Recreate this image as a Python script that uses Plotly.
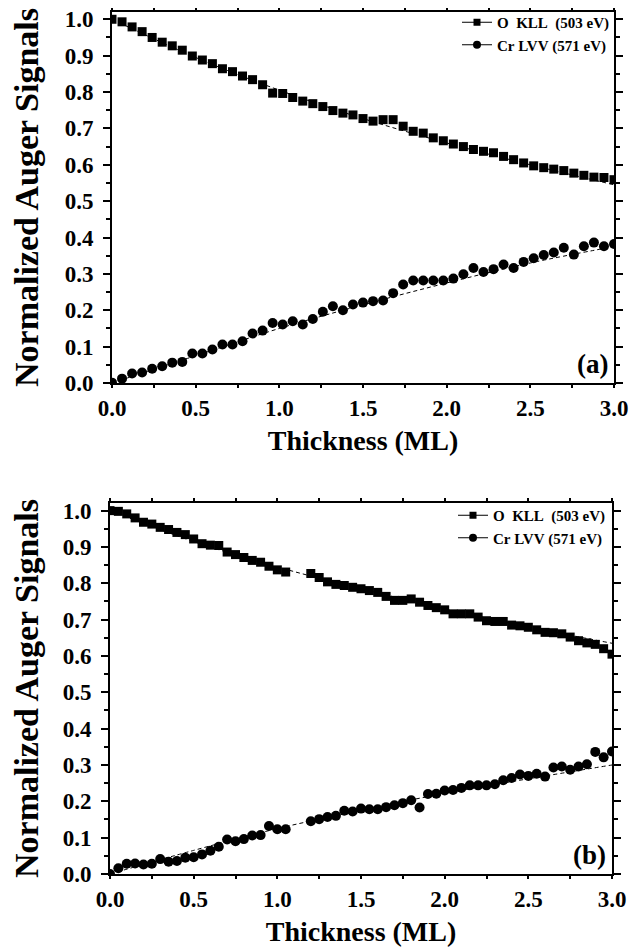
import plotly.graph_objects as go

# ---------------- Panel (a) data ----------------
thick_a = [0.00, 0.06, 0.12, 0.18, 0.24, 0.30, 0.36, 0.42, 0.48, 0.54,
           0.60, 0.66, 0.72, 0.78, 0.84, 0.90, 0.96, 1.02, 1.08, 1.14,
           1.20, 1.26, 1.32, 1.38, 1.44, 1.50, 1.56, 1.62, 1.68, 1.74,
           1.80, 1.86, 1.92, 1.98, 2.04, 2.10, 2.16, 2.22, 2.28, 2.34,
           2.40, 2.46, 2.52, 2.58, 2.64, 2.70, 2.76, 2.82, 2.88, 2.94, 3.00]
o_kll_a = [1.000, 0.993, 0.979, 0.966, 0.950, 0.937, 0.927, 0.915, 0.899, 0.888,
           0.878, 0.864, 0.856, 0.844, 0.834, 0.820, 0.797, 0.796, 0.785, 0.775,
           0.768, 0.760, 0.749, 0.742, 0.737, 0.727, 0.720, 0.724, 0.724, 0.706,
           0.692, 0.687, 0.674, 0.666, 0.657, 0.650, 0.642, 0.637, 0.633, 0.623,
           0.614, 0.605, 0.597, 0.592, 0.588, 0.584, 0.577, 0.571, 0.566, 0.565, 0.559]
cr_lvv_a = [0.001, 0.012, 0.026, 0.029, 0.039, 0.046, 0.056, 0.058, 0.081, 0.081,
            0.092, 0.106, 0.106, 0.115, 0.136, 0.144, 0.165, 0.161, 0.170, 0.161,
            0.176, 0.196, 0.211, 0.200, 0.216, 0.221, 0.225, 0.227, 0.247, 0.271,
            0.282, 0.282, 0.282, 0.282, 0.287, 0.299, 0.316, 0.305, 0.313, 0.326,
            0.316, 0.333, 0.343, 0.352, 0.359, 0.372, 0.353, 0.376, 0.386, 0.376, 0.382]
fit_x = [0.0, 0.5, 1.0, 1.5, 2.0, 2.5, 3.0]
fit_o_a = [1.000, 0.895, 0.805, 0.727, 0.660, 0.600, 0.545]
fit_cr_a = [0.000, 0.075, 0.150, 0.215, 0.275, 0.330, 0.375]

# ---------------- Panel (b) data ----------------
thick_b = [0.00, 0.05, 0.10, 0.15, 0.20, 0.25, 0.30, 0.35, 0.40, 0.45,
           0.50, 0.55, 0.60, 0.65, 0.70, 0.75, 0.80, 0.85, 0.90, 0.95,
           1.00, 1.05, 1.20, 1.25, 1.30, 1.35, 1.40, 1.45, 1.50, 1.55,
           1.60, 1.65, 1.70, 1.75, 1.80, 1.85, 1.90, 1.95, 2.00, 2.05,
           2.10, 2.15, 2.20, 2.25, 2.30, 2.35, 2.40, 2.45, 2.50, 2.55,
           2.60, 2.65, 2.70, 2.75, 2.80, 2.85, 2.90, 2.95, 3.00]
o_kll_b = [1.000, 0.998, 0.991, 0.980, 0.968, 0.963, 0.954, 0.948, 0.940, 0.934,
           0.922, 0.909, 0.905, 0.904, 0.886, 0.879, 0.871, 0.863, 0.858, 0.847,
           0.837, 0.831, 0.827, 0.816, 0.804, 0.797, 0.794, 0.789, 0.785, 0.780,
           0.775, 0.764, 0.753, 0.753, 0.757, 0.748, 0.739, 0.733, 0.727, 0.716,
           0.716, 0.716, 0.707, 0.697, 0.695, 0.695, 0.685, 0.683, 0.679, 0.672,
           0.665, 0.664, 0.661, 0.652, 0.642, 0.636, 0.632, 0.620, 0.605]
cr_lvv_b = [0.000, 0.016, 0.028, 0.029, 0.026, 0.028, 0.041, 0.034, 0.036, 0.045,
            0.046, 0.054, 0.064, 0.075, 0.095, 0.090, 0.096, 0.106, 0.107, 0.132,
            0.123, 0.123, 0.145, 0.151, 0.157, 0.160, 0.174, 0.172, 0.180, 0.178,
            0.178, 0.184, 0.189, 0.195, 0.203, 0.183, 0.220, 0.221, 0.230, 0.231,
            0.237, 0.244, 0.244, 0.244, 0.247, 0.258, 0.264, 0.274, 0.270, 0.276,
            0.268, 0.293, 0.296, 0.287, 0.296, 0.302, 0.336, 0.321, 0.337]
fit_o_b = [1.000, 0.915, 0.845, 0.785, 0.730, 0.680, 0.635]
fit_cr_b = [0.000, 0.065, 0.125, 0.175, 0.222, 0.262, 0.300]

label_o = "O\u00a0\u00a0KLL\u00a0\u00a0(503\u00a0eV)"
label_cr = "Cr\u00a0LVV\u00a0(571\u00a0eV)"

# the page body has an 8px margin, so the figure is drawn 8px in from the window edge
OFF = 8
W, H = 639 - OFF, 949 - OFF
SERIF = "'Times New Roman', 'Liberation Serif', Times, serif"
BLACK = "#000000"

def fx(px):
    return (px - OFF) / W

def fy(py):
    return 1 - (py - OFF) / H

fig = go.Figure()

def add_panel(xs, o_vals, cr_vals, fo, fc, xa, ya, leg):
    for fyv in (fo, fc):
        fig.add_trace(go.Scatter(x=fit_x, y=fyv, mode="lines", line_shape="spline",
                                 line=dict(color=BLACK, width=1, dash="4px,3px"),
                                 showlegend=False, hoverinfo="skip", xaxis=xa, yaxis=ya))
    fig.add_trace(go.Scatter(x=xs, y=o_vals, mode="markers",
                             marker=dict(symbol="square", size=9, color=BLACK),
                             showlegend=False, xaxis=xa, yaxis=ya))
    fig.add_trace(go.Scatter(x=xs, y=cr_vals, mode="markers",
                             marker=dict(symbol="circle", size=10, color=BLACK),
                             showlegend=False, xaxis=xa, yaxis=ya))
    # legend entries
    fig.add_trace(go.Scatter(x=[None], y=[None], mode="lines+markers", name=label_o,
                             marker=dict(symbol="square", size=7, color=BLACK),
                             line=dict(color=BLACK, width=1),
                             legend=leg, xaxis=xa, yaxis=ya))
    fig.add_trace(go.Scatter(x=[None], y=[None], mode="lines+markers", name=label_cr,
                             marker=dict(symbol="circle", size=8, color=BLACK),
                             line=dict(color=BLACK, width=1),
                             legend=leg, xaxis=xa, yaxis=ya))

add_panel(thick_a, o_kll_a, cr_lvv_a, fit_o_a, fit_cr_a, "x", "y", "legend")
add_panel(thick_b, o_kll_b, cr_lvv_b, fit_o_b, fit_cr_b, "x2", "y2", "legend2")

tickfont = dict(family=SERIF, size=23, color=BLACK, weight="bold")
xtitle = dict(text="Thickness (ML)", font=dict(family=SERIF, size=28, color=BLACK, weight="bold"), standoff=11)
ytitle = dict(text="Normalized Auger Signals", font=dict(family=SERIF, size=34, color=BLACK, weight="bold"), standoff=16)

common_x = dict(range=[0, 3], tickmode="array", tickvals=[0, 0.5, 1.0, 1.5, 2.0, 2.5, 3.0],
                ticktext=["0.0", "0.5", "1.0", "1.5", "2.0", "2.5", "3.0"],
                ticks="outside", ticklen=3, tickwidth=2, tickcolor=BLACK,
                minor=dict(tickvals=[0.25, 0.75, 1.25, 1.75, 2.25, 2.75], ticks="outside", ticklen=3, tickwidth=2, tickcolor=BLACK),
                showline=True, linewidth=2, linecolor=BLACK, mirror="ticks", automargin=False,
                ticklabeloverflow="allow",
                showgrid=False, zeroline=False, tickfont=tickfont, title=xtitle)
ytv = [0.0, 0.1, 0.2, 0.3, 0.4, 0.5, 0.6, 0.7, 0.8, 0.9, 1.0]
common_y = dict(tickmode="array", tickvals=ytv, ticktext=[f"{v:.1f}" for v in ytv],
                ticks="outside", ticklen=7, tickwidth=2, tickcolor=BLACK, ticklabelstandoff=5,
                minor=dict(tickvals=[0.05, 0.15, 0.25, 0.35, 0.45, 0.55, 0.65, 0.75, 0.85, 0.95],
                           ticks="outside", ticklen=4, tickwidth=2, tickcolor=BLACK),
                showline=True, linewidth=2, linecolor=BLACK, mirror="ticks", automargin=False,
                ticklabeloverflow="allow",
                showgrid=False, zeroline=False, tickfont=tickfont, title=ytitle)

fig.update_layout(
    width=W, height=H,
    margin=dict(l=0, r=0, t=0, b=0, autoexpand=False),
    paper_bgcolor="white", plot_bgcolor="white",
    xaxis=dict(domain=[fx(112), fx(614)], anchor="y", **common_x),
    yaxis=dict(domain=[fy(383), fy(12)], anchor="x", range=[0, 1.02], **common_y),
    xaxis2=dict(domain=[fx(110), fx(612)], anchor="y2", **common_x),
    yaxis2=dict(domain=[fy(874), fy(503)], anchor="x2", range=[0, 1.021], **common_y),
    legend=dict(x=fx(615), y=fy(6), xanchor="right", yanchor="top",
                font=dict(family=SERIF, size=15, color=BLACK, weight="bold"),
                bgcolor="rgba(0,0,0,0)", itemwidth=30, tracegroupgap=0),
    legend2=dict(x=fx(611), y=fy(499), xanchor="right", yanchor="top",
                 font=dict(family=SERIF, size=15, color=BLACK, weight="bold"),
                 bgcolor="rgba(0,0,0,0)", itemwidth=30, tracegroupgap=0),
    annotations=[
        dict(text="(a)", x=2.975, y=0.051, xref="x", yref="y", xanchor="right", yanchor="middle",
             showarrow=False, font=dict(family=SERIF, size=27, color=BLACK, weight="bold")),
        dict(text="(b)", x=2.975, y=0.051, xref="x2", yref="y2", xanchor="right", yanchor="middle",
             showarrow=False, font=dict(family=SERIF, size=27, color=BLACK, weight="bold")),
    ],
)

fig.write_html("out.html")
